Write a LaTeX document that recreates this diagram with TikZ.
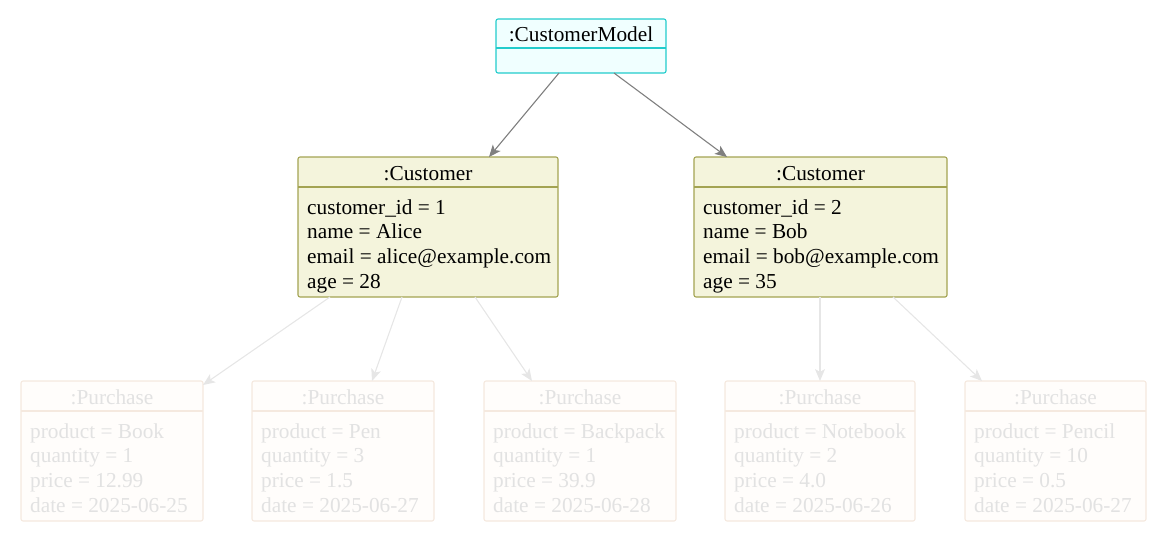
\documentclass[tikz,border=0pt]{standalone}
\usepackage{fontspec}
\setmainfont{Liberation Serif}
\usetikzlibrary{arrows.meta}
\definecolor{cmfill}{HTML}{F0FFFF}
\definecolor{cmdraw}{HTML}{22CCCC}
\definecolor{cufill}{HTML}{F4F4DC}
\definecolor{cudraw}{HTML}{A3A352}
\definecolor{pufill}{HTML}{FFFDFB}
\definecolor{pudraw}{HTML}{F5E9DF}
\definecolor{putext}{HTML}{E2E2E2}
\definecolor{darkarrow}{HTML}{808080}
\definecolor{lightarrow}{HTML}{E6E6E6}
\tikzset{
  boxbase/.style={rounded corners=2pt, line width=1.1pt, inner sep=0pt, outer sep=0pt},
  cmbox/.style={boxbase, draw=cmdraw, fill=cmfill},
  cubox/.style={boxbase, draw=cudraw, fill=cufill},
  pubox/.style={boxbase, draw=pudraw, fill=pufill},
  ttl/.style={font=\fontsize{21.3pt}{24.7pt}\selectfont, inner sep=0pt, anchor=base},
  attr/.style={font=\fontsize{21.3pt}{24.7pt}\selectfont, inner sep=0pt, anchor=base west},
  conn/.style={-{Stealth[length=12pt,width=10pt,inset=3pt]}, line width=1.1pt},
}
\newcommand{\umlobj}[9]{% name, x1, y1, x2, y2, divider y, style, textcolor, title
  \node[#7, minimum width=#4pt-#2pt, minimum height=#5pt-#3pt] (#1) at ({(#2+#4)/2},{(#3+#5)/2}) {};
  \draw[line width=1.1pt, #7, fill=none, rounded corners=0pt] (#2,#6) -- (#4,#6);
  \node[ttl, text=#8] (#1-t) at ({(#2+#4)/2},#6-6.5) {#9};
}
\newcommand{\attrs}[8]{% name, x, baseline0, color, l1..l4
  \node[attr, text=#4] (#1-a1) at (#2,#3) {#5};
  \node[attr, text=#4] (#1-a2) at (#2,#3+24.7) {#6};
  \node[attr, text=#4] (#1-a3) at (#2,#3+49.4) {#7};
  \node[attr, text=#4] (#1-a4) at (#2,#3+74.1) {#8};
}
\begin{document}
\begin{tikzpicture}[x=1pt,y=-1pt]
\useasboundingbox (0,0) rectangle (1165,541);
% top
\umlobj{cm}{496}{19}{666}{73}{48}{cmbox}{black}{:CustomerModel}
% customers
\umlobj{c1}{298}{157}{558}{297}{187}{cubox}{black}{:Customer}
\attrs{c1}{307}{214}{black}{customer\_id = 1}{name = Alice}{email = alice@example.com}{age = 28}
\umlobj{c2}{694}{157}{947}{297}{187}{cubox}{black}{:Customer}
\attrs{c2}{703}{214}{black}{customer\_id = 2}{name = Bob}{email = bob@example.com}{age = 35}
% purchases
\umlobj{p1}{21}{381}{203}{521}{411}{pubox}{putext}{:Purchase}
\attrs{p1}{30}{438}{putext}{product = Book}{quantity = 1}{price = 12.99}{date = 2025-06-25}
\umlobj{p2}{252}{381}{434}{521}{411}{pubox}{putext}{:Purchase}
\attrs{p2}{261}{438}{putext}{product = Pen}{quantity = 3}{price = 1.5}{date = 2025-06-27}
\umlobj{p3}{484}{381}{676}{521}{411}{pubox}{putext}{:Purchase}
\attrs{p3}{493}{438}{putext}{product = Backpack}{quantity = 1}{price = 39.9}{date = 2025-06-28}
\umlobj{p4}{725}{381}{915}{521}{411}{pubox}{putext}{:Purchase}
\attrs{p4}{734}{438}{putext}{product = Notebook}{quantity = 2}{price = 4.0}{date = 2025-06-26}
\umlobj{p5}{965}{381}{1146}{521}{411}{pubox}{putext}{:Purchase}
\attrs{p5}{974}{438}{putext}{product = Pencil}{quantity = 10}{price = 0.5}{date = 2025-06-27}
% connectors
\coordinate (cmA) at (559,73);
\coordinate (cmB) at (614,73);
\coordinate (c1in) at (489,157);
\coordinate (c2in) at (727,157);
\draw[conn, darkarrow] (cmA) -- (c1in);
\draw[conn, darkarrow] (cmB) -- (c2in);
\coordinate (c1o1) at (330,297);
\coordinate (c1o2) at (402,297);
\coordinate (c1o3) at (475,297);
\coordinate (c2o1) at (820,297);
\coordinate (c2o2) at (893,297);
\coordinate (p1in) at (203,385);
\coordinate (p2in) at (372,381);
\coordinate (p3in) at (532,381);
\coordinate (p4in) at (820,381);
\coordinate (p5in) at (982,381);
\draw[conn, lightarrow] (c1o1) -- (p1in);
\draw[conn, lightarrow] (c1o2) -- (p2in);
\draw[conn, lightarrow] (c1o3) -- (p3in);
\draw[conn, lightarrow] (c2o1) -- (p4in);
\draw[conn, lightarrow] (c2o2) -- (p5in);
\end{tikzpicture}
\end{document}
